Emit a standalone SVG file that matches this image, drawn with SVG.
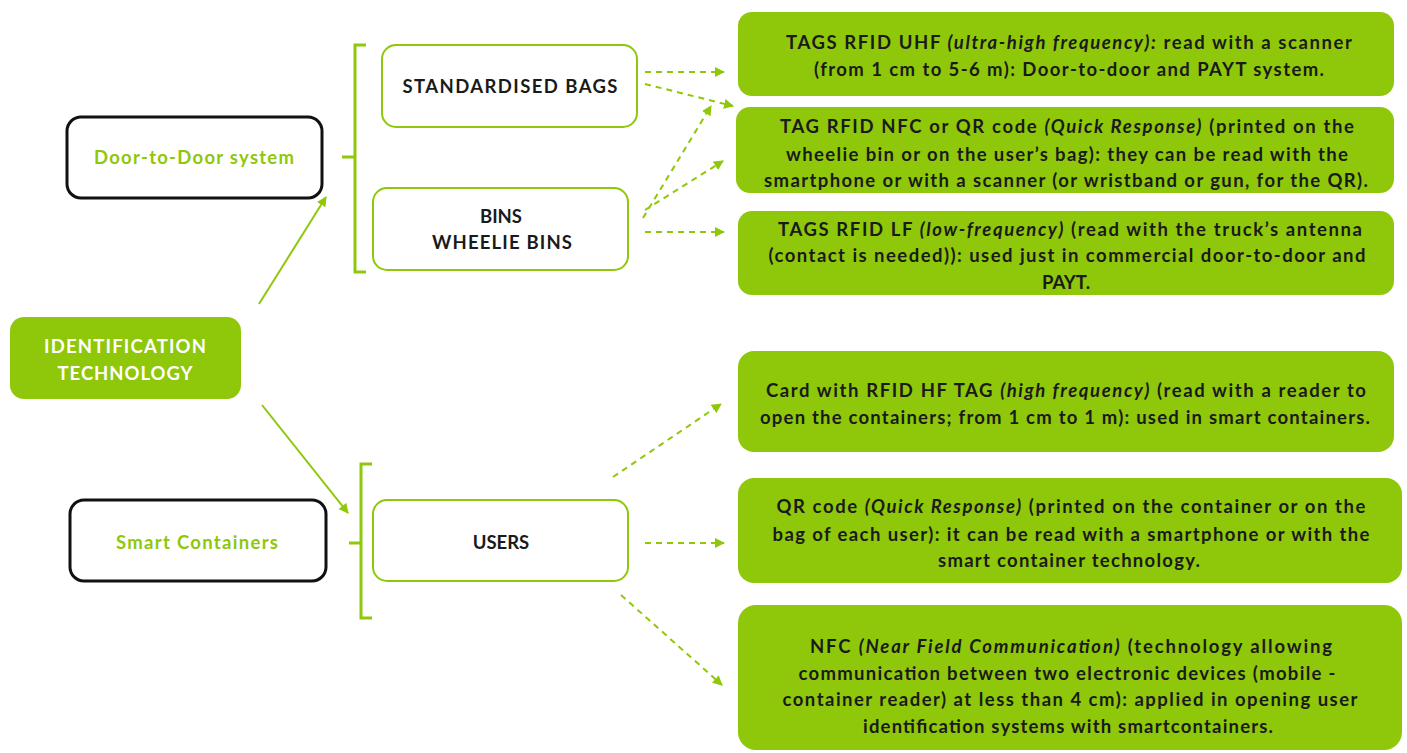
<svg xmlns="http://www.w3.org/2000/svg" width="1407" height="753" viewBox="0 0 1407 753">
<style>
.t{font-family:Lato,"Liberation Sans",sans-serif;font-weight:700;font-size:18.5px;fill:#1a1a1a;text-anchor:middle}
.i{font-style:italic}
.g{fill:#8fc70a}
.wb{fill:#fff;stroke:#8fc70a;stroke-width:2}
.bb{fill:#fff;stroke:#111;stroke-width:3}
.sol{stroke:#8fc70a;stroke-width:2;fill:none}
.dash{stroke:#8fc70a;stroke-width:2;fill:none;stroke-dasharray:6 5}
.br{stroke:#8fc70a;stroke-width:3;fill:none}
</style>
<defs>
<marker id="ah" viewBox="0 0 10 10" refX="9" refY="5" markerWidth="5" markerHeight="5" orient="auto"><path d="M0,0 L10,5 L0,10 z" fill="#8fc70a"/></marker>
</defs>
<rect width="1407" height="753" fill="#fff"/>

<g id="identification">
<rect x="10" y="317" width="231" height="82" rx="14" class="g"/>
<text class="t" x="125" y="353" style="fill:#fff" textLength="162">IDENTIFICATION</text>
<text class="t" x="125" y="380" style="fill:#fff" textLength="135">TECHNOLOGY</text>
</g>
<g id="door">
<rect x="67" y="117" width="255" height="81" rx="14" class="bb"/>
<text class="t" x="194" y="164" style="fill:#8fc70a" textLength="200">Door-to-Door system</text>
</g>
<g id="smart">
<rect x="70" y="500" width="256" height="81" rx="14" class="bb"/>
<text class="t" x="197" y="549" style="fill:#8fc70a" textLength="162">Smart Containers</text>
</g>
<g id="bags">
<rect x="382" y="45" width="255" height="82" rx="14" class="wb"/>
<text class="t" x="510" y="93" textLength="215">STANDARDISED BAGS</text>
</g>
<g id="bins">
<rect x="373" y="188" width="255" height="82" rx="14" class="wb"/>
<text class="t" x="501" y="223">BINS</text>
<text class="t" x="502" y="249" textLength="140">WHEELIE BINS</text>
</g>
<g id="users">
<rect x="373" y="500" width="255" height="81" rx="14" class="wb"/>
<text class="t" x="501" y="549">USERS</text>
</g>

<g id="r1">
<rect x="738" y="12" width="656" height="84" rx="14" class="g"/>
<text class="t" x="1069" y="49" textLength="566">TAGS RFID UHF  <tspan class="i">(ultra-high frequency):</tspan> read with a scanner</text>
<text class="t" x="1069" y="76" textLength="510">(from 1 cm to 5-6 m): Door-to-door and PAYT system.</text>
</g>
<g id="r2">
<rect x="736" y="107" width="658" height="86" rx="14" class="g"/>
<text class="t" x="1067" y="133" textLength="574">TAG RFID NFC or QR code <tspan class="i">(Quick Response)</tspan> (printed on the</text>
<text class="t" x="1067" y="161" textLength="562">wheelie bin or on the user’s bag): they can be read with the</text>
<text class="t" x="1066" y="187" textLength="604">smartphone or with a scanner (or wristband or gun, for the QR).</text>
</g>
<g id="r3">
<rect x="738" y="211" width="656" height="84" rx="14" class="g"/>
<text class="t" x="1070" y="236" textLength="584">TAGS RFID LF <tspan class="i">(low-frequency)</tspan> (read with the truck’s antenna</text>
<text class="t" x="1067" y="262" textLength="597">(contact is needed)): used just in commercial door-to-door and</text>
<text class="t" x="1066" y="289">PAYT.</text>
</g>
<g id="r4">
<rect x="738" y="351" width="656" height="101" rx="16" class="g"/>
<text class="t" x="1066" y="397" textLength="600">Card with RFID HF TAG <tspan class="i">(high frequency)</tspan> (read with a reader to</text>
<text class="t" x="1065" y="424" textLength="610">open the containers; from 1 cm to 1 m): used in smart containers.</text>
</g>
<g id="r5">
<rect x="738" y="478" width="664" height="105" rx="16" class="g"/>
<text class="t" x="1071" y="513" textLength="589">QR code <tspan class="i">(Quick Response)</tspan> (printed on the container or on the</text>
<text class="t" x="1071" y="541" textLength="597">bag of each user): it can be read with a smartphone or with the</text>
<text class="t" x="1069" y="567" textLength="262">smart container technology.</text>
</g>
<g id="r6">
<rect x="738" y="605" width="664" height="145" rx="18" class="g"/>
<text class="t" x="1071" y="653" textLength="522">NFC <tspan class="i">(Near Field Communication)</tspan> (technology allowing</text>
<text class="t" x="1067" y="680" textLength="537">communication between two electronic devices (mobile -</text>
<text class="t" x="1070" y="706" textLength="575">container reader) at less than 4 cm): applied in opening user</text>
<text class="t" x="1068" y="733" textLength="410">identification systems with smartcontainers.</text>
</g>

<g id="connectors">
<path class="br" d="M366,45 H355 V272 H366 M355,157 H342"/>
<path class="br" d="M372,464 H361 V618 H372 M361,543 H349"/>
<line class="sol" x1="259" y1="304" x2="326" y2="197" marker-end="url(#ah)"/>
<line class="sol" x1="262" y1="405" x2="348" y2="513" marker-end="url(#ah)"/>
<line class="dash" x1="645" y1="72" x2="724" y2="72" marker-end="url(#ah)"/>
<line class="dash" x1="645" y1="84" x2="733" y2="106" marker-end="url(#ah)"/>
<line class="dash" x1="643" y1="218" x2="711" y2="106" marker-end="url(#ah)"/>
<line class="dash" x1="645" y1="210" x2="723" y2="161" marker-end="url(#ah)"/>
<line class="dash" x1="645" y1="232" x2="724" y2="232" marker-end="url(#ah)"/>
<line class="dash" x1="613" y1="477" x2="721" y2="404" marker-end="url(#ah)"/>
<line class="dash" x1="645" y1="543" x2="724" y2="543" marker-end="url(#ah)"/>
<line class="dash" x1="621" y1="595" x2="722" y2="685" marker-end="url(#ah)"/>
</g>
</svg>
